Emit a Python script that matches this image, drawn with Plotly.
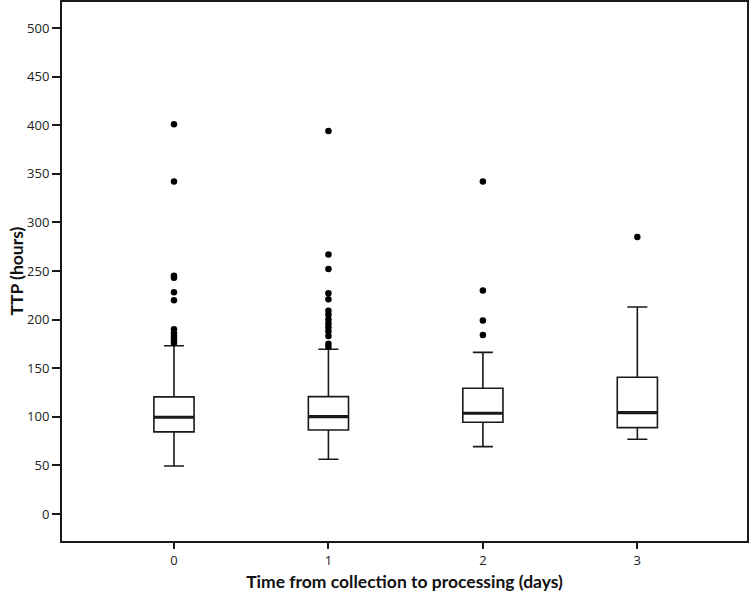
import plotly.graph_objects as go

categories = [0, 1, 2, 3]
q1 = [84.5, 86.4, 94.3, 88.8]
medians = [99.5, 100.1, 103.6, 104.2]
q3 = [120.5, 120.7, 129.3, 140.6]
lower_whisker = [49.4, 56.3, 69.3, 76.8]
upper_whisker = [173.0, 169.4, 166.3, 213.0]
outliers = {
    0: [401, 342, 245, 243, 228, 220, 190, 186, 183, 180, 178, 176],
    1: [394, 267, 252, 227, 221, 209, 205, 200, 196, 192, 188, 183, 175, 172],
    2: [342, 230, 199, 184],
    3: [285],
}
y_ticks = [0, 50, 100, 150, 200, 250, 300, 350, 400, 450, 500]

BOX_W = 0.26
INK = "#1a1a1a"

fig = go.Figure()
fig.add_trace(go.Box(
    x=categories, q1=q1, median=medians, q3=q3,
    lowerfence=lower_whisker, upperfence=upper_whisker,
    boxpoints=False, width=BOX_W, whiskerwidth=0.5,
    fillcolor="white", line=dict(color=INK, width=1.6),
    showlegend=False, hoverinfo="skip",
))

# thicker median lines (SPSS style)
mx, my = [], []
for c, m in zip(categories, medians):
    mx += [c - BOX_W / 2, c + BOX_W / 2, None]
    my += [m, m, None]
fig.add_trace(go.Scatter(x=mx, y=my, mode="lines",
                         line=dict(color=INK, width=3.2),
                         showlegend=False, hoverinfo="skip"))

ox, oy = [], []
for c in categories:
    for v in outliers[c]:
        ox.append(c)
        oy.append(v)
fig.add_trace(go.Scatter(x=ox, y=oy, mode="markers",
                         marker=dict(color="black", size=6.5),
                         showlegend=False, hoverinfo="skip"))

fig.update_layout(
    width=750, height=597,
    margin=dict(l=62, r=3, t=2, b=56, autoexpand=False),
    paper_bgcolor="white", plot_bgcolor="white",
    font=dict(family="Open Sans", color="#222"),
    annotations=[dict(
        text="<b>TTP (hours)</b>", textangle=-90,
        xref="paper", yref="paper", x=0, y=0.5,
        xanchor="center", yanchor="middle", xshift=-46, showarrow=False,
        font=dict(family="Lato", size=17.5, color="#111"),
    )],
)
fig.update_xaxes(
    range=[-0.725, 3.71], tickvals=categories,
    ticktext=[str(c) for c in categories],
    showgrid=False, zeroline=False,
    showline=True, linecolor=INK, linewidth=2, mirror=True,
    ticks="outside", ticklen=6, tickwidth=1.6, tickcolor=INK,
    tickfont=dict(family="Open Sans", size=13, color="#222"),
    title=dict(text="<b>Time from collection to processing (days)</b>",
               font=dict(family="Lato", size=17.5, color="#111"), standoff=8),
)
fig.update_yaxes(
    range=[-27.8, 526.7], tickvals=y_ticks,
    showgrid=False, zeroline=False,
    showline=True, linecolor=INK, linewidth=2, mirror=True,
    ticks="outside", ticklen=8, tickwidth=1.6, tickcolor=INK,
    tickfont=dict(family="Open Sans", size=13, color="#222"),
)

fig.write_html(
    "out.html",
    config={"displayModeBar": False},
    post_script="document.body.style.margin='0px';document.body.style.overflow='hidden';",
)
